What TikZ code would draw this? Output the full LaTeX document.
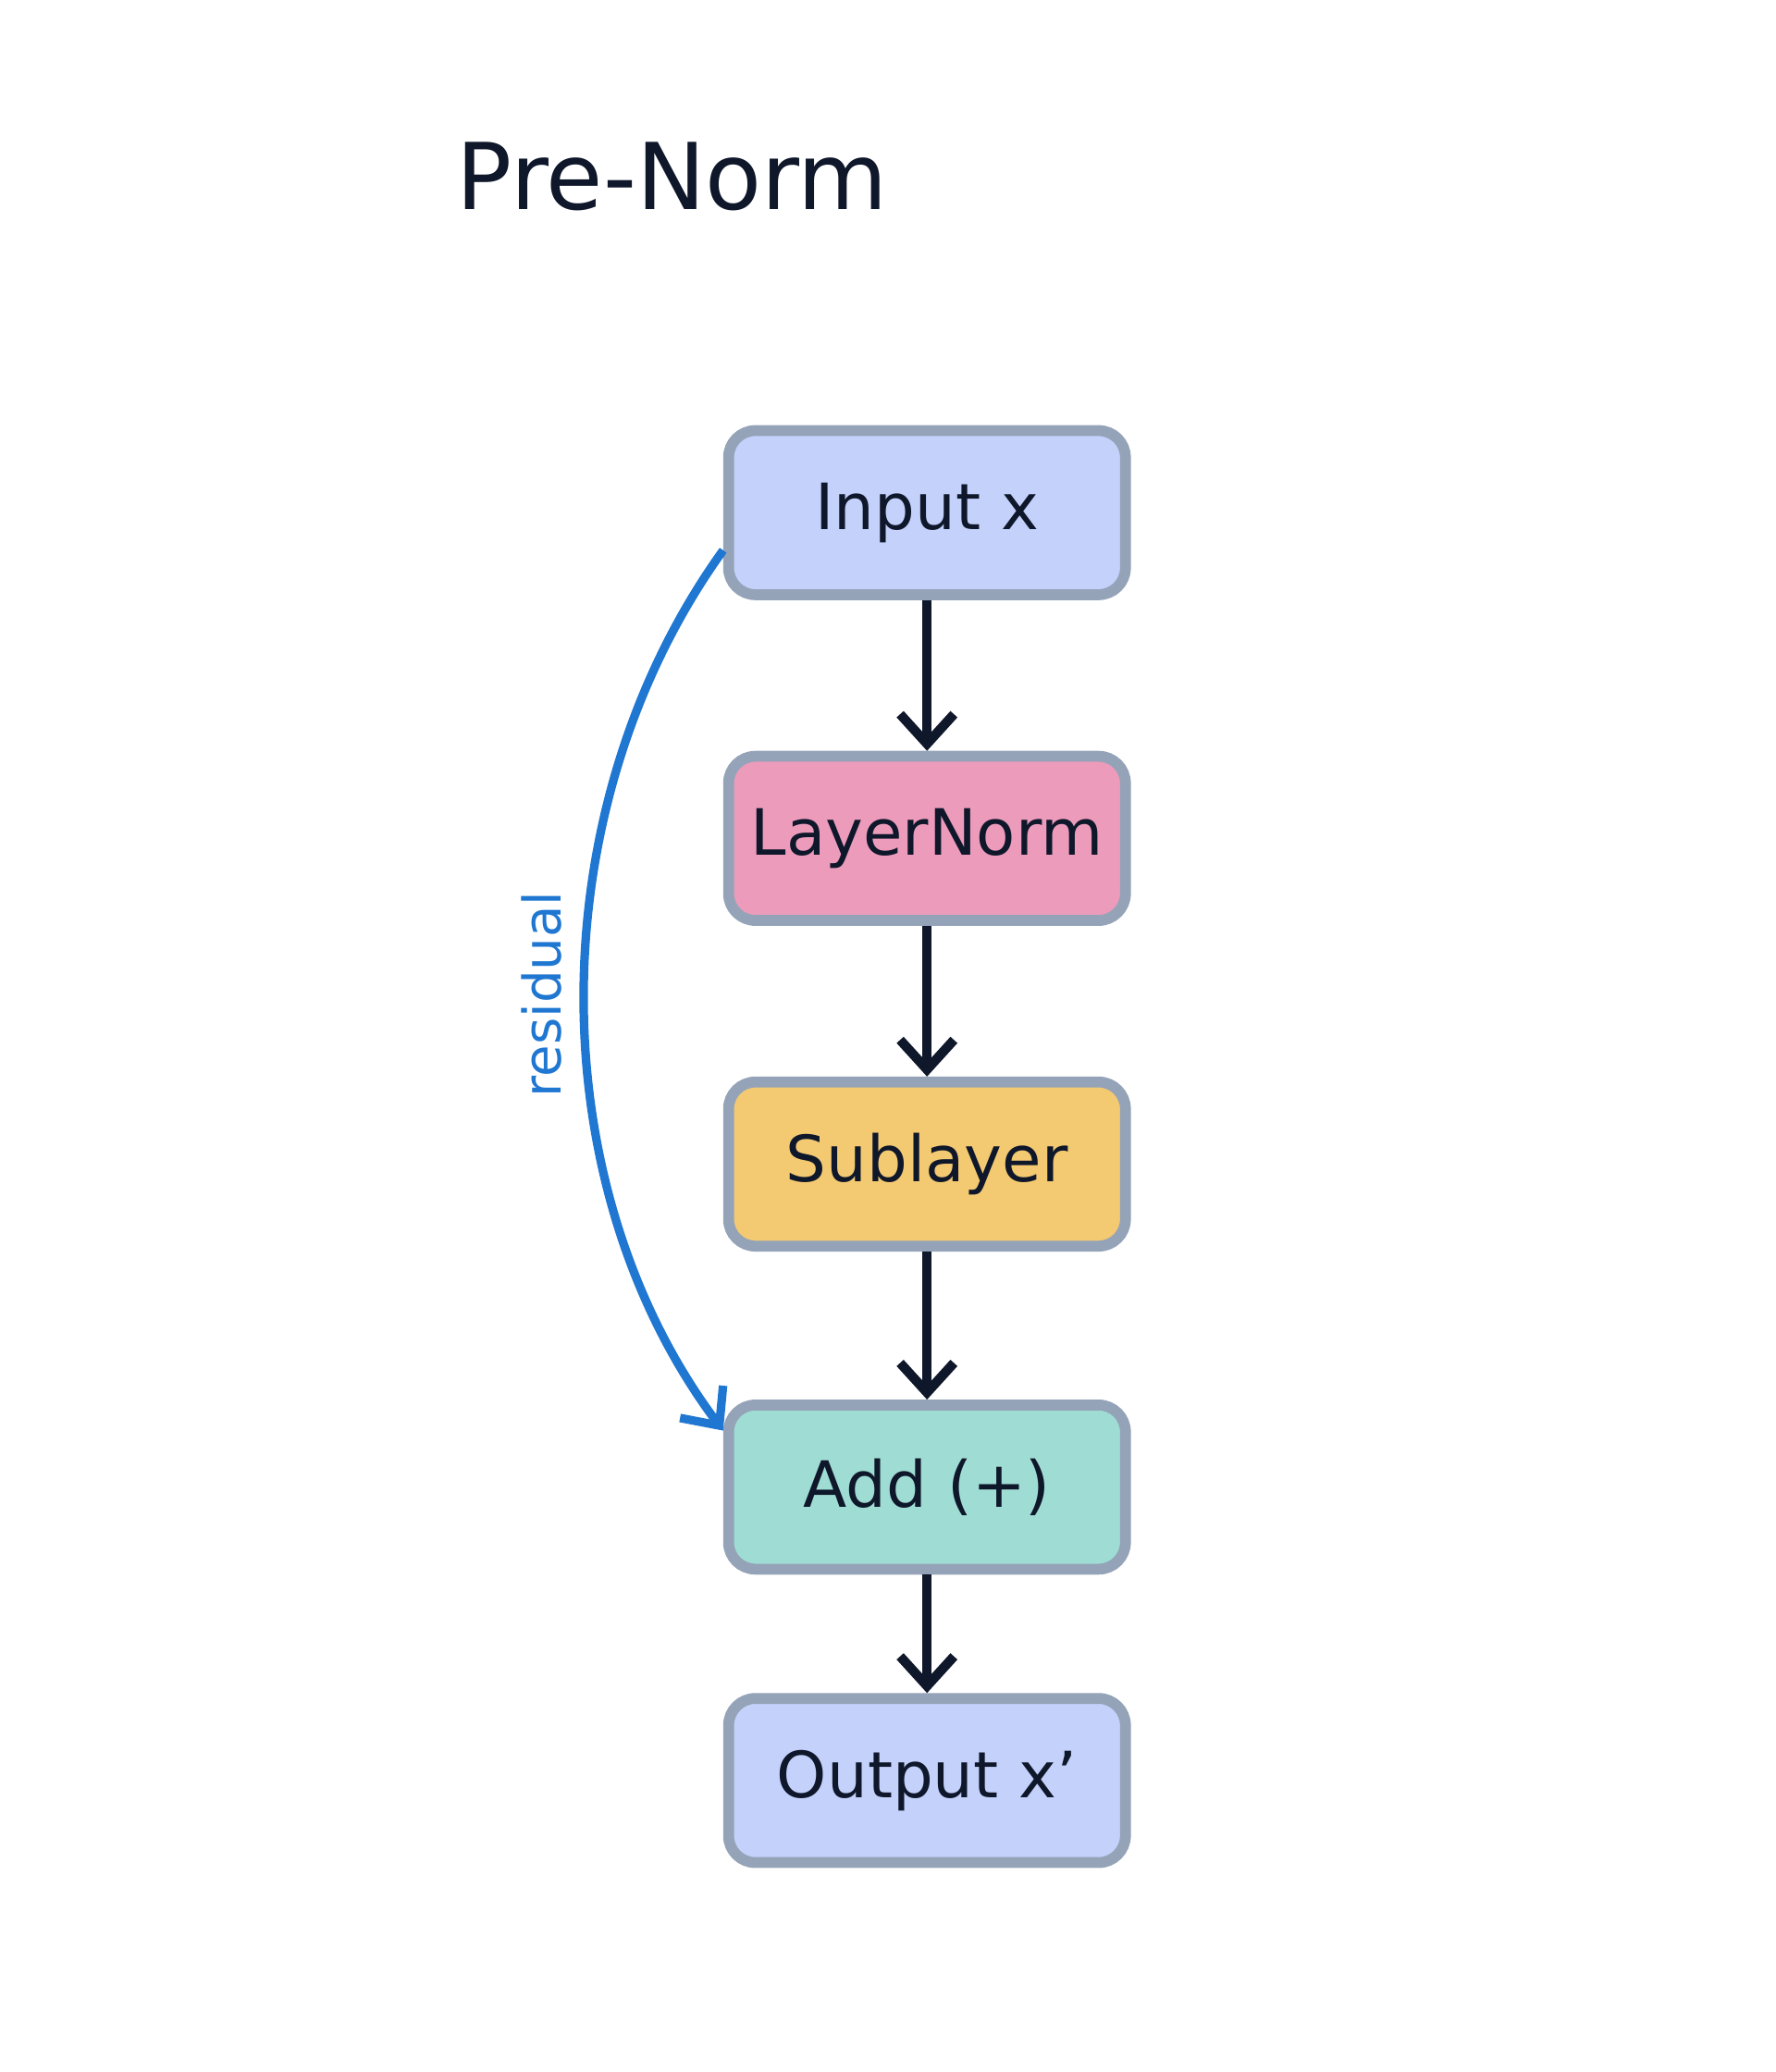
\documentclass[tikz,border=0pt]{standalone}
\usepackage{fontspec}
\setmainfont{DejaVu Sans}
\usetikzlibrary{positioning, arrows.meta}
\definecolor{inblue}{HTML}{C3D1FB}
\definecolor{normpink}{HTML}{EC9BBB}
\definecolor{subgold}{HTML}{F3C971}
\definecolor{addteal}{HTML}{9FDDD4}
\definecolor{edgegray}{HTML}{94A3B8}
\definecolor{inkdark}{HTML}{0F172A}
\definecolor{resblue}{HTML}{1F77D2}
\tikzset{
  block/.style={rectangle, rounded corners=0.2cm, minimum width=2.95cm, minimum height=1.22cm, text centered, draw=edgegray, line width=2.3pt, text=inkdark, font=\fontsize{13.5}{16}\selectfont},
  flow/.style={line width=2pt, draw=inkdark, -{Straight Barb[length=2.2mm, width=4mm, line width=2pt]}},
}
\begin{document}
\begin{tikzpicture}
\useasboundingbox (0,0) rectangle (13.2,-15.4);

% Title
\node (title) [anchor=west, text=inkdark, font=\fontsize{19.5}{23}\selectfont] at (3.27,-1.31) {Pre-Norm};

% Blocks
\node (input) [block, fill=inblue] at (6.89,-3.81) {Input x};
\node (norm) [block, fill=normpink, below=1.12cm of input] {LayerNorm};
\node (sub) [block, fill=subgold, below=1.12cm of norm] {Sublayer};
\node (add) [block, fill=addteal, below=1.1cm of sub] {Add (+)};
\node (output) [block, fill=inblue, below=0.88cm of add] {Output x'};

% Arrows
\draw [flow] (input) -- (norm);
\draw [flow] (norm) -- (sub);
\draw [flow] (sub) -- (add);
\draw [flow] (add) -- (output);

% Residual
\coordinate (resstart) at ([yshift=-0.28cm]input.west);
\coordinate (resend) at ([yshift=0.42cm]add.west);
\draw [line width=1.8pt, resblue, -{Straight Barb[length=2.2mm, width=4mm, line width=1.8pt]}]
  (resstart) .. controls (4.0,-6.0) and (4.0,-8.8) .. (resend)
  node [pos=0.5, left=0.02cm, rotate=90, anchor=south, font=\fontsize{11}{13}\selectfont, text=resblue] {residual};
\end{tikzpicture}
\end{document}
